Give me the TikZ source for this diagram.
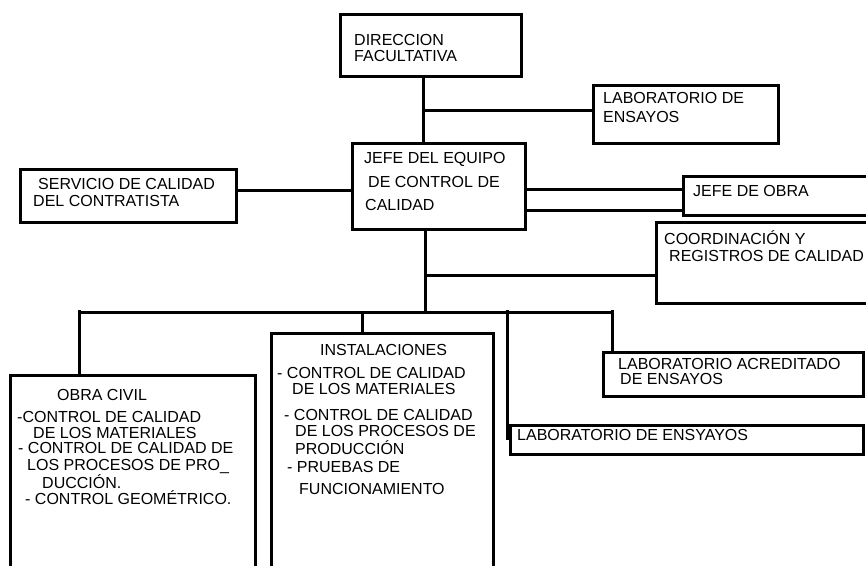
\documentclass[tikz,border=0pt]{standalone}
\usepackage{fontspec}
\setmainfont{Liberation Sans}
\begin{document}
\begin{tikzpicture}[x=1pt,y=-1pt,
  bx/.style={draw, rectangle, line width=3pt, inner sep=0pt, outer sep=0pt, anchor=north west},
  txt/.style={inner sep=0pt, anchor=base west, font=\fontsize{16}{18}\selectfont},
  ln/.style={line width=3pt}]
\useasboundingbox (0,0) rectangle (866,565);
% boxes
\node[bx, minimum width=181pt, minimum height=62pt] (df) at (340,14) {};
\node[bx, minimum width=185pt, minimum height=58pt] (lab1) at (593,85) {};
\node[bx, minimum width=173pt, minimum height=86pt] (jefe) at (352,143) {};
\node[bx, minimum width=216pt, minimum height=53pt] (serv) at (20,169) {};
\node[bx, minimum width=230pt, minimum height=39pt] (obra) at (683,176) {};
\node[bx, minimum width=250pt, minimum height=81pt] (coord) at (656,222) {};
\node[bx, minimum width=245pt, minimum height=230pt] (civil) at (10,375) {};
\node[bx, minimum width=222pt, minimum height=270pt] (inst) at (271,333) {};
\node[bx, minimum width=260pt, minimum height=44pt] (labacr) at (603,352) {};
\node[bx, minimum width=353pt, minimum height=29pt] (labens) at (510,425) {};
% texts
\foreach \x/\y/\t [count=\i] in {354/45/DIRECCION, 354/61/FACULTATIVA}
  \node[txt] (df-\i) at (\x,\y) {\t};
\foreach \x/\y/\t [count=\i] in {603/103/LABORATORIO DE, 603/122/ENSAYOS}
  \node[txt] (lab1-\i) at (\x,\y) {\t};
\foreach \x/\y/\t [count=\i] in {364/163/JEFE DEL EQUIPO, 368/187/DE CONTROL DE, 365/210/CALIDAD}
  \node[txt] (jefe-\i) at (\x,\y) {\t};
\foreach \x/\y/\t [count=\i] in {38/189/SERVICIO DE CALIDAD, 33/206/DEL CONTRATISTA}
  \node[txt] (serv-\i) at (\x,\y) {\t};
\node[txt] (obra-1) at (693,196) {JEFE DE OBRA};
\foreach \x/\y/\t [count=\i] in {664/244/COORDINACIÓN Y, 669/261/REGISTROS DE CALIDAD}
  \node[txt] (coord-\i) at (\x,\y) {\t};
\foreach \x/\y/\t [count=\i] in {57/400/OBRA CIVIL, 17/422/-CONTROL DE CALIDAD, 33/438/DE LOS MATERIALES,
  18/453/- CONTROL DE CALIDAD DE, 27/470/LOS PROCESOS DE PRO\_, 42/488/DUCCIÓN., 25/504/- CONTROL GEOMÉTRICO.}
  \node[txt] (civil-\i) at (\x,\y) {\t};
\foreach \x/\y/\t [count=\i] in {320/355/INSTALACIONES, 277/378/- CONTROL DE CALIDAD, 292/394/DE LOS MATERIALES,
  284/420/- CONTROL DE CALIDAD, 295/436/DE LOS PROCESOS DE, 295/454/PRODUCCIÓN, 287/472/- PRUEBAS DE, 299/494/FUNCIONAMIENTO}
  \node[txt] (inst-\i) at (\x,\y) {\t};
\foreach \x/\y/\t [count=\i] in {618/369/LABORATORIO ACREDITADO, 620/384/DE ENSAYOS}
  \node[txt] (labacr-\i) at (\x,\y) {\t};
\node[txt] (labens-1) at (517,440) {LABORATORIO DE ENSYAYOS};
% junction coordinates
\coordinate (j1) at (423,110);
\coordinate (h1) at (0,190);
\coordinate (h2) at (0,189);
\coordinate (h3) at (0,210);
\coordinate (h4) at (0,275);
\coordinate (bus) at (425,312);
\coordinate (busL) at (79,312);
\coordinate (busR) at (612,312);
\coordinate (s2) at (362,312);
\coordinate (s3) at (507,312);
% connectors
\draw[ln] (df.south -| j1) -- (jefe.north -| j1);
\draw[ln] (j1) -- (lab1.west |- j1);
\draw[ln] (serv.east |- h1) -- (jefe.west |- h1);
\draw[ln] (jefe.east |- h2) -- (obra.west |- h2);
\draw[ln] (jefe.east |- h3) -- (obra.west |- h3);
\draw[ln] (jefe.south -| bus) -- (bus);
\draw[ln] (bus |- h4) -- (coord.west |- h4);
\draw[ln] (busL) -- (busR);
\draw[ln] ([yshift=2pt]busL) -- (civil.north -| busL);
\draw[ln] (s2) -- (inst.north -| s2);
\draw[ln] ([yshift=2pt]s3) -- (labens.west -| s3);
\draw[ln] ([yshift=2pt]busR) -- (labacr.north -| busR);
\end{tikzpicture}
\end{document}
